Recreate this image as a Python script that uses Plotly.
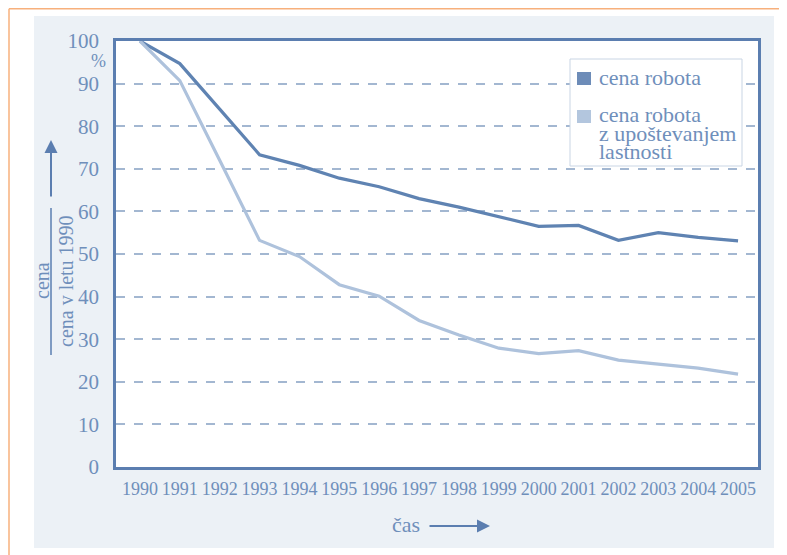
import plotly.graph_objects as go

years = list(range(1990, 2006))
cena_robota = [100, 94.7, 84.0, 73.3, 70.8, 67.8, 65.8, 63.0, 61.0, 58.8, 56.5, 56.7, 53.2, 55.0, 53.9, 53.1]
cena_lastnosti = [100, 90.7, 72.0, 53.2, 49.4, 42.8, 40.1, 34.4, 31.0, 27.9, 26.6, 27.3, 25.1, 24.2, 23.2, 21.8]
series_names = ["cena robota", "cena robota", "z upoštevanjem", "lastnosti"]
y_ticks = [0, 10, 20, 30, 40, 50, 60, 70, 80, 90, 100]

OFF = 8  # page body margin
W, H = 787, 555
L, R, T, B = 116, 758, 41, 467  # plot area pixels (reference coords)

def px(x):
    return (x - L) / (R - L)

def py(y):
    return (B - y) / (B - T)

FONT = "Liberation Serif"
TXT = "#6f8fbb"
AX = "#5b7eb0"
DARK = "#5f83b2"
LIGHT = "#aec2dc"

fig = go.Figure()
fig.add_trace(go.Scatter(x=years, y=cena_robota, mode="lines", line=dict(color=DARK, width=3.2),
                         name="cena robota", showlegend=False, hoverinfo="skip"))
fig.add_trace(go.Scatter(x=years, y=cena_lastnosti, mode="lines", line=dict(color=LIGHT, width=3.2),
                         name="cena robota z upoštevanjem lastnosti", showlegend=False, hoverinfo="skip"))

def rect(x0, y0, x1, y1, fill, line=None, layer="above"):
    return dict(type="rect", xref="paper", yref="paper", x0=px(x0), x1=px(x1), y0=py(y1), y1=py(y0),
                fillcolor=fill, line=line or dict(width=0), layer=layer)

shapes = [
    rect(34, 16, 774, 548, "#ecf1f6", layer="below"),
    dict(type="line", xref="paper", yref="paper", x0=px(9), x1=px(9), y0=py(8.8), y1=py(570),
         line=dict(color="#f7b07c", width=1.5)),
    dict(type="line", xref="paper", yref="paper", x0=px(9), x1=px(800), y0=py(8.8), y1=py(8.8),
         line=dict(color="#f7b07c", width=1.5)),
    rect(L, T, R, B, "white", layer="below"),
    dict(type="line", xref="paper", yref="paper", x0=px(51), x1=px(51), y0=py(208), y1=py(355),
         line=dict(color=AX, width=1.5)),
    # legend box + swatches
    rect(570, 59, 742, 166, "white", line=dict(color="#c9d5e4", width=1)),
    rect(577, 72, 591, 85, "#6d8cb8"),
    rect(577, 110, 591, 123, "#b3c6de"),
]

def txt(text, x, y, size, angle=0, xanchor="center"):
    return dict(text=text, xref="paper", yref="paper", x=px(x), y=py(y), showarrow=False,
                textangle=angle, xanchor=xanchor, yanchor="middle",
                font=dict(family=FONT, size=size, color=TXT))

annotations = [
    txt("%", 98, 61, 18),
    txt("cena", 42, 281, 20, -90),
    txt("cena v letu 1990", 66, 281, 20, -90),
    dict(text="", xref="paper", yref="paper", x=px(51), y=py(140), ax=0, ay=58,
         showarrow=True, arrowhead=2, arrowsize=1.3, arrowwidth=2, arrowcolor=AX),
    txt("čas", 406, 524, 22),
    dict(text="", xref="paper", yref="paper", x=px(490), y=py(526), ax=-62, ay=0,
         showarrow=True, arrowhead=2, arrowsize=1.3, arrowwidth=2, arrowcolor=AX),
    txt(series_names[0], 597, 77, 22, xanchor="left"),
    txt(series_names[1], 597, 115, 22, xanchor="left"),
    txt(series_names[2], 597, 133, 22, xanchor="left"),
    txt(series_names[3], 597, 151, 22, xanchor="left"),
]

fig.update_layout(
    width=W - OFF, height=H - OFF,
    margin=dict(l=L - OFF, r=W - R, t=T - OFF, b=H - B, pad=0),
    paper_bgcolor="white", plot_bgcolor="rgba(0,0,0,0)",
    font=dict(family=FONT, color=TXT),
    showlegend=False,
    shapes=shapes, annotations=annotations,
    xaxis=dict(range=[1989.4, 2005.5], tickvals=years, ticktext=[str(y) for y in years],
               showgrid=False, zeroline=False, showline=True, linecolor=AX, linewidth=2.5,
               mirror=True, ticks="", ticklabelstandoff=4,
               tickfont=dict(family=FONT, size=18, color=TXT)),
    yaxis=dict(range=[0, 100], tickvals=y_ticks, showgrid=True, gridcolor="#a3b7d1", gridwidth=1.5,
               griddash="dash", zeroline=False, showline=True, linecolor=AX, linewidth=2.5,
               mirror=True, ticks="", ticklabelstandoff=10,
               tickfont=dict(family=FONT, size=21, color=TXT)),
)

fig.write_html("out.html")
